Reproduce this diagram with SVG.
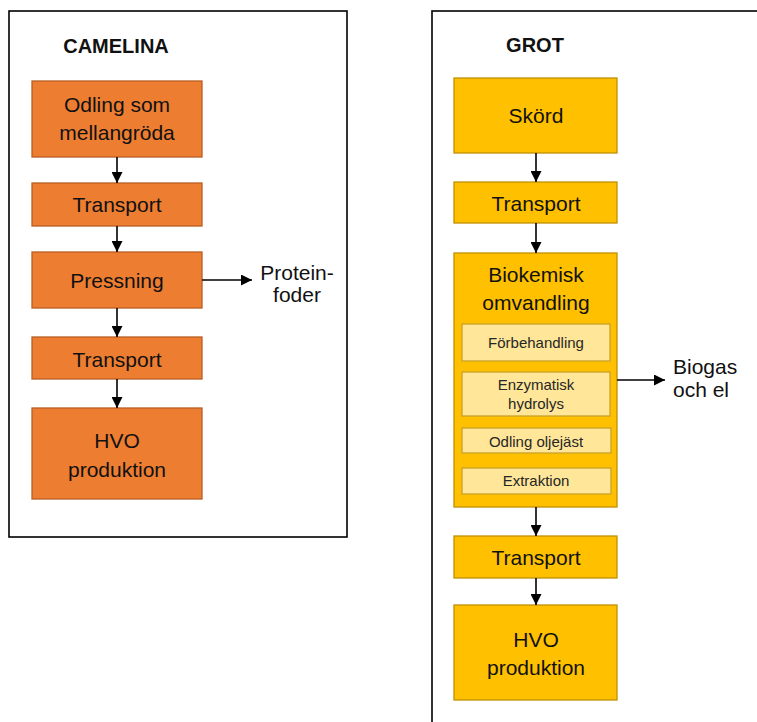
<svg xmlns="http://www.w3.org/2000/svg" width="757" height="722" viewBox="0 0 757 722">
<style>
.frame{fill:#fff;stroke:#000;stroke-width:1.6}
.or{fill:#ED7D31;stroke:#B85F22;stroke-width:1.3}
.ye{fill:#FFC000;stroke:#C09000;stroke-width:1.3}
.sub{fill:#FFE699;stroke:#C9A227;stroke-width:1.3}
text{font-family:"Liberation Sans",Arial,sans-serif;fill:#111}
.t{font-size:21px;text-anchor:middle}
.s{font-size:15px;text-anchor:middle;fill:#262626}
.h{font-size:20px;font-weight:bold;text-anchor:middle}
.lab{font-size:21px}
.c{stroke:#000;stroke-width:1.6;fill:none;marker-end:url(#ah)}
</style>
<defs>
<marker id="ah" viewBox="0 0 10 10" refX="10" refY="5" markerWidth="11" markerHeight="11" markerUnits="userSpaceOnUse" orient="auto">
<path d="M0,0 L10,5 L0,10 Z" fill="#000"/>
</marker>
</defs>
<rect class="frame" x="9" y="11" width="338" height="526"/>
<rect class="frame" x="432" y="11" width="400" height="800"/>
<text class="h" x="116" y="53">CAMELINA</text>
<text class="h" x="535" y="52">GROT</text>

<g id="c1"><rect class="or" x="32" y="81" width="170" height="76"/><text class="t" x="117" y="112">Odling som</text><text class="t" x="117" y="140">mellangröda</text></g>
<g id="c2"><rect class="or" x="32" y="183" width="170" height="43"/><text class="t" x="117" y="212">Transport</text></g>
<g id="c3"><rect class="or" x="32" y="252" width="170" height="56"/><text class="t" x="117" y="288">Pressning</text></g>
<g id="c4"><rect class="or" x="32" y="337" width="170" height="42"/><text class="t" x="117" y="367">Transport</text></g>
<g id="c5"><rect class="or" x="32" y="408" width="170" height="91"/><text class="t" x="117" y="448">HVO</text><text class="t" x="117" y="477">produktion</text></g>
<g id="c6"><text class="t" x="297" y="280">Protein-</text><text class="t" x="297" y="302">foder</text></g>

<g id="g1"><rect class="ye" x="454" y="78" width="163" height="75"/><text class="t" x="536" y="123">Skörd</text></g>
<g id="g2"><rect class="ye" x="454" y="182" width="163" height="41"/><text class="t" x="536" y="211">Transport</text></g>
<g id="g3"><rect class="ye" x="454" y="253" width="163" height="254"/><text class="t" x="536" y="282">Biokemisk</text><text class="t" x="536" y="310">omvandling</text>
<g id="g3a"><rect class="sub" x="462" y="324" width="148" height="37"/><text class="s" x="536" y="348">Förbehandling</text></g>
<g id="g3b"><rect class="sub" x="462" y="372" width="148" height="44"/><text class="s" x="536" y="390">Enzymatisk</text><text class="s" x="536" y="409">hydrolys</text></g>
<g id="g3c"><rect class="sub" x="462" y="428" width="149" height="25"/><text class="s" x="536" y="447">Odling oljejäst</text></g>
<g id="g3d"><rect class="sub" x="462" y="468" width="149" height="26"/><text class="s" x="536" y="486">Extraktion</text></g>
</g>
<g id="g4"><rect class="ye" x="454" y="536" width="163" height="42"/><text class="t" x="536" y="565">Transport</text></g>
<g id="g5"><rect class="ye" x="454" y="605" width="163" height="95"/><text class="t" x="536" y="647">HVO</text><text class="t" x="536" y="675">produktion</text></g>
<g id="g6"><text class="lab" x="673" y="374">Biogas</text><text class="lab" x="673" y="397">och el</text></g>

<g id="connectors">
<line class="c" x1="117" y1="157" x2="117" y2="183"/>
<line class="c" x1="117" y1="226" x2="117" y2="252"/>
<line class="c" x1="117" y1="308" x2="117" y2="337"/>
<line class="c" x1="117" y1="379" x2="117" y2="408"/>
<line class="c" x1="202" y1="280" x2="252" y2="280"/>
<line class="c" x1="536" y1="153" x2="536" y2="182"/>
<line class="c" x1="536" y1="223" x2="536" y2="253"/>
<line class="c" x1="536" y1="507" x2="536" y2="536"/>
<line class="c" x1="536" y1="578" x2="536" y2="605"/>
<line class="c" x1="617" y1="380" x2="665" y2="380"/>
</g>
</svg>
